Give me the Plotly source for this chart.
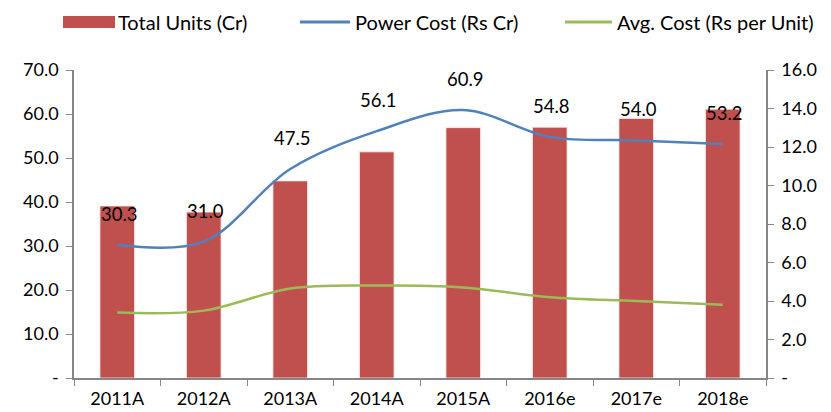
import plotly.graph_objects as go

years = ["2011A", "2012A", "2013A", "2014A", "2015A", "2016e", "2017e", "2018e"]
total_units = [39.1, 37.7, 44.8, 51.4, 56.9, 57.0, 59.0, 61.1]
power_cost = [30.3, 31.0, 47.5, 56.1, 60.9, 54.8, 54.0, 53.2]
avg_cost = [3.4, 3.5, 4.65, 4.8, 4.7, 4.2, 4.0, 3.8]

left_ticks = [0, 10, 20, 30, 40, 50, 60, 70]
right_ticks = [0, 2, 4, 6, 8, 10, 12, 14, 16]

RED = "#C0504D"
BLUE = "#4F81BD"
GREEN = "#9BBB59"
AXIS = "#868686"
FONT = "Lato, Carlito, Calibri, sans-serif"

fig = go.Figure()
fig.add_trace(go.Bar(x=years, y=total_units, name="Total Units (Cr)", width=0.4,
                     marker=dict(color=RED, line=dict(color="rgba(255,235,235,0.8)", width=1)),
                     showlegend=False))
fig.add_trace(go.Scatter(x=years, y=power_cost, name="Power Cost (Rs Cr)", mode="lines",
                         line=dict(color=BLUE, width=2.5, shape="spline", smoothing=1),
                         showlegend=False))
fig.add_trace(go.Scatter(x=years, y=avg_cost, name="Avg. Cost (Rs per Unit)", mode="lines",
                         yaxis="y2",
                         line=dict(color=GREEN, width=2.5, shape="spline", smoothing=1),
                         showlegend=False))

annotations = []
for yr, v in zip(years, power_cost):
    annotations.append(dict(x=yr, y=v, xref="x", yref="y", text=f"{v:.1f}",
                            showarrow=False, yshift=31, xshift=2,
                            font=dict(family=FONT, size=18.5, color="black")))

# custom legend (pixel positions converted to paper coords)
L, R_, T, B = 74, 766, 70, 378
W, H = R_ - L, B - T
def px(x): return (x - L) / W
def py(y): return (B - y) / H

shapes = [
    dict(type="rect", xref="paper", yref="paper", x0=px(63), x1=px(115), y0=py(28), y1=py(16),
         fillcolor=RED, line=dict(width=0)),
    dict(type="line", xref="paper", yref="paper", x0=px(300), x1=px(350), y0=py(22), y1=py(22),
         line=dict(color=BLUE, width=3)),
    dict(type="line", xref="paper", yref="paper", x0=px(565), x1=px(612), y0=py(22), y1=py(22),
         line=dict(color=GREEN, width=3)),
]
legend_items = [("Total Units (Cr)", 116), ("Power Cost (Rs Cr)", 353), ("Avg. Cost (Rs per Unit)", 615)]
for txt, x in legend_items:
    annotations.append(dict(x=px(x), y=py(22), xref="paper", yref="paper", text=txt,
                            showarrow=False, xanchor="left", yanchor="middle",
                            font=dict(family=FONT, size=20, color="black")))

axis_common = dict(showline=True, linecolor=AXIS, linewidth=1.5, ticks="outside", tickcolor=AXIS,
                   ticklen=6, showgrid=False, automargin=False)

fig.update_layout(
    width=831, height=412,
    margin=dict(l=L, r=831 - R_, t=T, b=412 - B, autoexpand=False),
    paper_bgcolor="white", plot_bgcolor="white",
    font=dict(family=FONT, size=18, color="black"),
    bargap=0.6,
    xaxis=dict(**axis_common, tickson="boundaries", ticklabelstandoff=4,
               tickfont=dict(family=FONT, size=18)),
    yaxis=dict(**axis_common, range=[0, 70], tickvals=left_ticks,
               ticktext=["-" if t == 0 else f"{t:.1f}" for t in left_ticks],
               zeroline=False, ticklabelstandoff=4, tickfont=dict(family=FONT, size=18)),
    yaxis2=dict(**axis_common, range=[0, 16], tickvals=right_ticks,
                ticktext=["-" if t == 0 else f"{t:.1f}" for t in right_ticks],
                overlaying="y", side="right", ticklabelstandoff=4,
                zeroline=False, tickfont=dict(family=FONT, size=18)),
    shapes=shapes,
    annotations=annotations,
)

fig.write_html("out.html", config={"displayModeBar": False},
               post_script="document.body.style.margin='0';document.body.style.overflow='hidden';")
